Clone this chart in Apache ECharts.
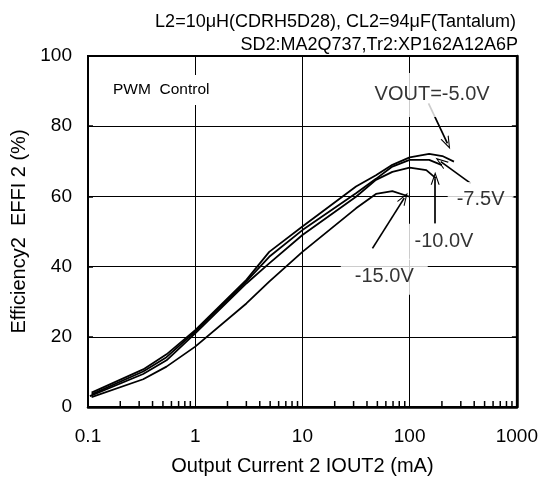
<!DOCTYPE html>
<html><head><meta charset="utf-8">
<script src="https://cdn.jsdelivr.net/npm/echarts@6/dist/echarts.min.js"></script>
<style>html,body{margin:0;padding:0;background:#fff}#c{width:541px;height:486px}</style>
</head><body><div id="c"></div>
<script>
// Data
const iout_5 = [0.108, 0.327, 0.54, 1, 3, 4.9, 10, 31.6, 48.5, 69, 100, 152, 202, 259];
const eff_5  = [4.1, 10.7, 15.0, 21.9, 36.2, 44.2, 51.4, 62.8, 66.0, 69.0, 71.1, 72.1, 71.5, 69.9];
const iout_75 = [0.108, 0.327, 0.54, 1, 3, 4.9, 10, 31.6, 48.5, 69, 100, 152, 200];
const eff_75  = [3.6, 10.1, 14.2, 21.5, 35.8, 42.8, 50.4, 60.9, 65.0, 68.5, 70.4, 70.4, 68.9];
const iout_10 = [0.104, 0.327, 0.54, 1, 3, 4.9, 10, 31.6, 48.5, 69, 100, 143, 175];
const eff_10  = [3.1, 9.4, 13.3, 21.0, 35.2, 40.9, 49.0, 59.9, 64.7, 67.0, 68.2, 67.5, 65.2];
const iout_15 = [0.108, 0.327, 0.54, 1, 3, 4.9, 10, 31.6, 48.5, 69, 100];
const eff_15  = [2.8, 7.9, 11.5, 17.2, 29.5, 35.7, 44.2, 56.6, 60.7, 61.5, 59.9];
const xTicks = [0.1, 1, 10, 100, 1000];
const yTicks = [0, 20, 40, 60, 80, 100];
const minorTicks = [0.2,0.3,0.4,0.5,0.6,0.7,0.8,0.9, 2,3,4,5,6,7,8,9, 20,30,40,50,60,70,80,90, 200,300,400,500,600,700,800,900];
// Annotation labels and arrows (data coordinates)
const labelNames = ['VOUT=-5.0V', '-7.5V', '-10.0V', '-15.0V'];
const labelPos = [[162, 88.9], [459, 59.0], [209, 47.1], [58, 37.1]];
const arrowFrom = [[150, 86.5], [371, 63.7], [173, 52.3], [45, 45.2]];
const arrowTo = [[225, 75.1], [195, 69.9], [173, 65.2], [89, 59.5]];
const labelPads = [[12, 8], [8, 9], [8, 14], [8, 14]];

const pair = (xs, ys) => xs.map((x, i) => [x, ys[i]]);
const FONT = 'Liberation Sans';
const chevron = 'path://M5,0 L10,12 L8.7,12 L5,3 L1.3,12 L0,12 Z';
const lineSeries = (name, data) => ({
  name, type: 'line', data, symbol: 'none', smooth: false,
  lineStyle: {color: '#000', width: 1.8}, z: 3, silent: true
});

const chart = echarts.init(document.getElementById('c'));
const series = [
  lineSeries('-5.0V', pair(iout_5, eff_5)),
  lineSeries('-7.5V', pair(iout_75, eff_75)),
  lineSeries('-10.0V', pair(iout_10, eff_10)),
  lineSeries('-15.0V', pair(iout_15, eff_15)),
  {
    type: 'custom', silent: true, z: 4,
    data: minorTicks.map(v => [v, 0]),
    renderItem: (params, api) => {
      const p = api.coord([api.value(0), 0]);
      return {type: 'line', shape: {x1: p[0], y1: p[1], x2: p[0], y2: p[1] - 6},
              style: {stroke: '#000', lineWidth: 1.5}};
    }
  },
  {
    type: 'scatter', symbolSize: 0, silent: true, z: 5,
    data: labelPos.map((p, i) => ({
      value: p, name: labelNames[i],
      label: {padding: labelPads[i]}
    })),
    label: {
      show: true, position: 'inside', formatter: p => p.name,
      color: '#000', fontFamily: FONT, fontSize: 20,
      backgroundColor: '#fff'
    }
  },
  {
    type: 'line', data: [], silent: true, z: 10,
    markLine: {
      silent: true, symbol: ['none', chevron], symbolSize: [9, 13],
      lineStyle: {color: '#000', width: 1.7, type: 'solid'},
      label: {show: false},
      data: arrowFrom.map((f, i) => [{coord: f}, {coord: arrowTo[i]}])
    }
  }
];

chart.setOption({
  animation: false,
  backgroundColor: '#fff',
  grid: {left: 88, right: 23, top: 56, bottom: 79, show: true, borderColor: '#000', borderWidth: 2, backgroundColor: 'transparent'},
  xAxis: {
    type: 'log', logBase: 10, min: xTicks[0], max: xTicks[xTicks.length - 1],
    name: 'Output Current 2 IOUT2 (mA)', nameLocation: 'middle', nameGap: 49,
    nameTextStyle: {color: '#000', fontFamily: FONT, fontSize: 20},
    axisLine: {show: true, lineStyle: {color: '#000', width: 2.5}},
    axisTick: {show: false},
    axisLabel: {color: '#000', fontFamily: FONT, fontSize: 19, margin: 20, formatter: v => String(v)},
    splitLine: {show: true, lineStyle: {color: '#000', width: 1}}
  },
  yAxis: [{
    type: 'value', min: yTicks[0], max: yTicks[yTicks.length - 1], interval: 20,
    name: 'Efficiency2  EFFI 2 (%)', nameLocation: 'middle', nameGap: 57,
    nameTextStyle: {color: '#000', fontFamily: FONT, fontSize: 20},
    axisLine: {show: true, lineStyle: {color: '#000', width: 2}},
    axisTick: {show: true, inside: true, length: 5, lineStyle: {color: '#000', width: 1.5}},
    axisLabel: {color: '#000', fontFamily: FONT, fontSize: 19, margin: 16},
    splitLine: {show: true, lineStyle: {color: '#000', width: 1}}
  }, {
    type: 'value', position: 'right', min: yTicks[0], max: yTicks[yTicks.length - 1], interval: 20,
    axisLine: {show: true, lineStyle: {color: '#000', width: 2.5}},
    axisTick: {show: true, inside: true, length: 5, lineStyle: {color: '#000', width: 1.5}},
    axisLabel: {show: false}, splitLine: {show: false}
  }],
  graphic: [
    {type: 'text', right: 25, top: 13, z: 10,
     style: {text: 'L2=10\u03bcH(CDRH5D28), CL2=94\u03bcF(Tantalum)', fill: '#000', font: '18px "Liberation Sans"'}},
    {type: 'text', right: 23, top: 36, z: 10,
     style: {text: 'SD2:MA2Q737,Tr2:XP162A12A6P', fill: '#000', font: '18px "Liberation Sans"'}},
    {type: 'text', left: 107, top: 75, z: 10,
     style: {text: 'PWM  Control', fill: '#000', font: '15.5px "Liberation Sans"', backgroundColor: '#fff', padding: [7, 6]}}
  ],
  series
});
</script></body></html>
